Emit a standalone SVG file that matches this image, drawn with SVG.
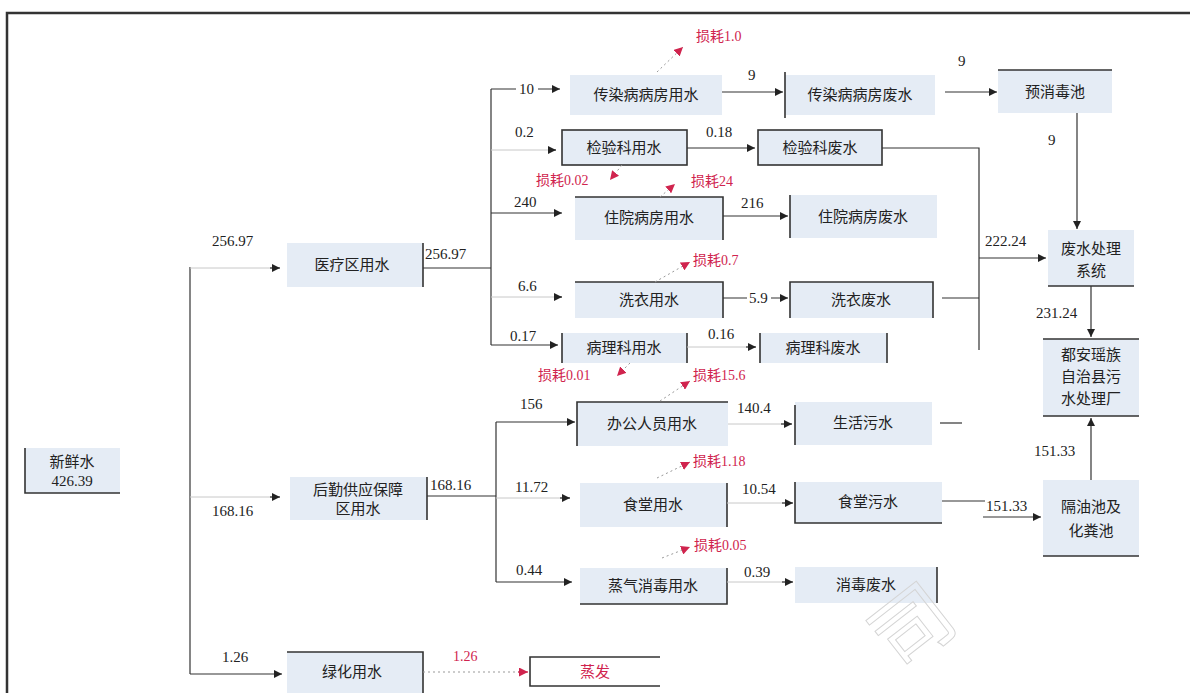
<svg xmlns="http://www.w3.org/2000/svg" width="1192" height="693" viewBox="0 0 1192 693">
<style>
.bx{fill:#e5ecf5;stroke:none}
.bd{stroke:#333;stroke-width:1.6;fill:none}
.ln{stroke:#333;stroke-width:1.2;fill:none}
.lf{stroke:#c8c8c8;stroke-width:1;fill:none}
.dt{stroke:#999;stroke-width:1;stroke-dasharray:2 3;fill:none}
.t{font-family:"Noto Sans CJK SC","Liberation Serif",serif;font-size:15px;fill:#222;text-anchor:middle}
.n{font-family:"Liberation Serif","Noto Sans CJK SC",serif;font-size:15px;fill:#222}
.r{font-family:"Liberation Serif","Noto Sans CJK SC",serif;font-size:14px;fill:#d0244e}
</style>
<defs>
<marker id="a" viewBox="0 0 10 10" refX="10" refY="5" markerWidth="8" markerHeight="8" markerUnits="userSpaceOnUse" orient="auto"><path d="M0,0L10,5L0,10z" fill="#222"/></marker>
<marker id="ar" viewBox="0 0 10 10" refX="10" refY="5" markerWidth="9" markerHeight="9" markerUnits="userSpaceOnUse" orient="auto"><path d="M0,0L10,5L0,10z" fill="#d0244e"/></marker>
</defs>
<rect width="1192" height="693" fill="#fff"/>
<path d="M7,693V13H1190" stroke="#333" stroke-width="2.5" fill="none"/>

<g id="n-xinxianshui"><rect class="bx" x="25" y="448" width="95" height="45"/><path class="bd" d="M25,448V493H120"/><text class="t" x="72" y="467">新鲜水</text><text class="n" x="72" y="486" text-anchor="middle">426.39</text></g>
<g id="n-yiliao"><rect class="bx" x="287" y="243" width="136" height="44"/><path class="bd" d="M423,243V287"/><text class="t" x="352" y="270">医疗区用水</text></g>
<g id="n-houqin"><rect class="bx" x="290" y="477" width="137" height="43"/><path class="bd" d="M427,477V520"/><text class="t" x="358" y="495">后勤供应保障</text><text class="t" x="358" y="514">区用水</text></g>
<g id="n-lvhua"><rect class="bx" x="287" y="652" width="136" height="41"/><path class="bd" d="M287,652H423V693"/><text class="t" x="352" y="677">绿化用水</text></g>
<g id="n-zhengfa"><rect x="530" y="657" width="130" height="29" fill="#fff"/><path class="bd" d="M660,657H530V686H660"/><text class="t" x="595" y="677" style="fill:#d0244e">蒸发</text></g>

<g id="n-crby"><rect class="bx" x="570" y="75" width="152" height="40"/><text class="t" x="646" y="100">传染病病房用水</text></g>
<g id="n-jyy"><rect class="bx" x="562" y="130" width="125" height="35"/><rect class="bd" x="562" y="130" width="125" height="35"/><text class="t" x="624" y="153">检验科用水</text></g>
<g id="n-zyy"><rect class="bx" x="575" y="197" width="148" height="43"/><path class="bd" d="M575,197H723V240"/><text class="t" x="649" y="223">住院病房用水</text></g>
<g id="n-xyy"><rect class="bx" x="575" y="282" width="148" height="36"/><path class="bd" d="M575,282H723V318"/><text class="t" x="649" y="305">洗衣用水</text></g>
<g id="n-bly"><rect class="bx" x="562" y="333" width="125" height="30"/><path class="bd" d="M562,333V363M687,333V363"/><text class="t" x="624" y="353">病理科用水</text></g>
<g id="n-bgy"><rect class="bx" x="577" y="402" width="151" height="44"/><path class="bd" d="M577,446V402H728"/><text class="t" x="652" y="429">办公人员用水</text></g>
<g id="n-sty"><rect class="bx" x="580" y="483" width="147" height="44"/><path class="bd" d="M727,483V527"/><text class="t" x="653" y="510">食堂用水</text></g>
<g id="n-xdy"><rect class="bx" x="580" y="568" width="147" height="36"/><path class="bd" d="M580,604H727V568"/><text class="t" x="653" y="591">蒸气消毒用水</text></g>

<g id="n-crbf"><rect class="bx" x="785" y="75" width="150" height="40"/><path class="bd" d="M785,72V118"/><text class="t" x="860" y="100">传染病病房废水</text></g>
<g id="n-jyf"><rect class="bx" x="758" y="130" width="124" height="35"/><rect class="bd" x="758" y="130" width="124" height="35"/><text class="t" x="820" y="153">检验科废水</text></g>
<g id="n-zyf"><rect class="bx" x="790" y="195" width="147" height="43"/><path class="bd" d="M790,238V195"/><text class="t" x="863" y="222">住院病房废水</text></g>
<g id="n-xyf"><rect class="bx" x="790" y="282" width="143" height="36"/><path class="bd" d="M790,318V282H933V318"/><text class="t" x="861" y="305">洗衣废水</text></g>
<g id="n-blf"><rect class="bx" x="760" y="333" width="127" height="30"/><path class="bd" d="M760,333V363M887,333V363"/><text class="t" x="823" y="353">病理科废水</text></g>
<g id="n-shw"><rect class="bx" x="795" y="402" width="137" height="43"/><path class="bd" d="M795,445V405"/><text class="t" x="863" y="428">生活污水</text></g>
<g id="n-stw"><rect class="bx" x="795" y="482" width="147" height="41"/><path class="bd" d="M795,482V523H942"/><text class="t" x="868" y="507">食堂污水</text></g>
<g id="n-xdf"><rect class="bx" x="795" y="567" width="142" height="36"/><path class="bd" d="M937,567V603"/><text class="t" x="866" y="590">消毒废水</text></g>

<g id="n-yxd"><rect class="bx" x="998" y="70" width="114" height="43"/><path class="bd" d="M998,70H1112"/><text class="t" x="1055" y="97">预消毒池</text></g>
<g id="n-fscl"><rect class="bx" x="1048" y="230" width="86" height="56"/><path class="bd" d="M1048,286H1134"/><text class="t" x="1091" y="254">废水处理</text><text class="t" x="1091" y="276">系统</text></g>
<g id="n-wscl"><rect class="bx" x="1043" y="339" width="96" height="77"/><path class="bd" d="M1043,339H1139M1043,416H1139"/><text class="t" x="1091" y="360">都安瑶族</text><text class="t" x="1091" y="382">自治县污</text><text class="t" x="1091" y="404">水处理厂</text></g>
<g id="n-gyc"><rect class="bx" x="1043" y="480" width="96" height="76"/><path class="bd" d="M1043,556H1139"/><text class="t" x="1091" y="512">隔油池及</text><text class="t" x="1091" y="536">化粪池</text></g>

<g id="connectors">
<path class="ln" d="M190,674V267"/>
<path class="lf" d="M190,268H278"/><path class="ln" d="M270,268H280" marker-end="url(#a)"/>
<path class="lf" d="M190,497H278"/><path class="ln" d="M270,497H280" marker-end="url(#a)"/>
<path class="ln" d="M190,674H282" marker-end="url(#a)"/>
<path class="ln" d="M423,268H491"/>
<path class="ln" d="M491,89V345"/>
<path class="ln" d="M491,89H516M538,89H560" marker-end="url(#a)"/>
<path class="lf" d="M491,150H556"/><path class="ln" d="M548,150H556" marker-end="url(#a)"/>
<path class="ln" d="M491,213H562" marker-end="url(#a)"/>
<path class="lf" d="M491,297H562"/><path class="ln" d="M554,297H562" marker-end="url(#a)"/>
<path class="ln" d="M491,345H558" marker-end="url(#a)"/>
<path class="ln" d="M722,92H783" marker-end="url(#a)"/>
<path class="ln" d="M945,92H997" marker-end="url(#a)"/>
<path class="ln" d="M1077,113V229" marker-end="url(#a)"/>
<path class="ln" d="M687,148H755" marker-end="url(#a)"/>
<path class="ln" d="M882,148H979V350"/>
<path class="ln" d="M723,216H788" marker-end="url(#a)"/>
<path class="ln" d="M723,298H747M771,298H788" marker-end="url(#a)"/>
<path class="ln" d="M942,298H979"/>
<path class="ln" d="M979,258H1046" marker-end="url(#a)"/>
<path class="lf" d="M687,347H755"/><path class="ln" d="M746,347H756" marker-end="url(#a)"/>
<path class="ln" d="M1091,286V337" marker-end="url(#a)"/>
<path class="ln" d="M1091,480V418" marker-end="url(#a)"/>
<path class="ln" d="M942,501H985"/>
<path class="ln" d="M983,517H1041" marker-end="url(#a)"/>
<path class="ln" d="M940,423H962"/>
<path class="ln" d="M427,496H496"/>
<path class="ln" d="M496,422V582"/>
<path class="ln" d="M496,422H575" marker-end="url(#a)"/>
<path class="lf" d="M496,498H570"/><path class="ln" d="M560,498H570" marker-end="url(#a)"/>
<path class="ln" d="M496,582H572" marker-end="url(#a)"/>
<path class="lf" d="M728,424H790"/><path class="ln" d="M781,424H792" marker-end="url(#a)"/>
<path class="lf" d="M727,503H790"/><path class="ln" d="M782,503H793" marker-end="url(#a)"/>
<path class="lf" d="M727,582H790"/><path class="ln" d="M782,582H793" marker-end="url(#a)"/>
<path class="dt" d="M423,672H520"/><path d="M518,672H528" stroke="#d0244e" stroke-width="1.2" marker-end="url(#ar)"/>
<path class="dt" d="M657,72L683,47" marker-end="url(#ar)"/>
<path class="dt" d="M622,165L610,180" marker-end="url(#ar)"/>
<path class="dt" d="M660,197L675,184" marker-end="url(#ar)"/>
<path class="dt" d="M655,282L690,262" marker-end="url(#ar)"/>
<path class="dt" d="M630,363L617,376" marker-end="url(#ar)"/>
<path class="dt" d="M660,401L690,381" marker-end="url(#ar)"/>
<path class="dt" d="M657,478L690,462" marker-end="url(#ar)"/>
<path class="dt" d="M662,558L690,547" marker-end="url(#ar)"/>
</g>

<g id="labels">
<text class="n" x="212" y="246">256.97</text>
<text class="n" x="212" y="516">168.16</text>
<text class="n" x="222" y="662">1.26</text>
<text class="n" x="425" y="259">256.97</text>
<text class="n" x="430" y="490">168.16</text>
<text class="n" x="519" y="94">10</text>
<text class="n" x="515" y="137">0.2</text>
<text class="n" x="514" y="207">240</text>
<text class="n" x="518" y="291">6.6</text>
<text class="n" x="510" y="341">0.17</text>
<text class="n" x="520" y="409">156</text>
<text class="n" x="515" y="492">11.72</text>
<text class="n" x="516" y="575">0.44</text>
<text class="n" x="748" y="80">9</text>
<text class="n" x="958" y="66">9</text>
<text class="n" x="1048" y="145">9</text>
<text class="n" x="706" y="137">0.18</text>
<text class="n" x="741" y="208">216</text>
<text class="n" x="749" y="303">5.9</text>
<text class="n" x="708" y="339">0.16</text>
<text class="n" x="985" y="246">222.24</text>
<text class="n" x="1036" y="318">231.24</text>
<text class="n" x="737" y="413">140.4</text>
<text class="n" x="742" y="494">10.54</text>
<text class="n" x="744" y="577">0.39</text>
<text class="n" x="1034" y="456">151.33</text>
<text class="n" x="986" y="511">151.33</text>
<text class="r" x="453" y="661">1.26</text>
<text class="r" x="696" y="41">损耗1.0</text>
<text class="r" x="536" y="185">损耗0.02</text>
<text class="r" x="691" y="186">损耗24</text>
<text class="r" x="693" y="265">损耗0.7</text>
<text class="r" x="538" y="380">损耗0.01</text>
<text class="r" x="693" y="380">损耗15.6</text>
<text class="r" x="693" y="466">损耗1.18</text>
<text class="r" x="694" y="550">损耗0.05</text>
</g>
<text x="880" y="680" transform="rotate(-38 880 650)" font-family="Noto Sans CJK SC,sans-serif" font-size="80" fill="none" stroke="#d4d4d4" stroke-width="1">司</text>
</svg>
